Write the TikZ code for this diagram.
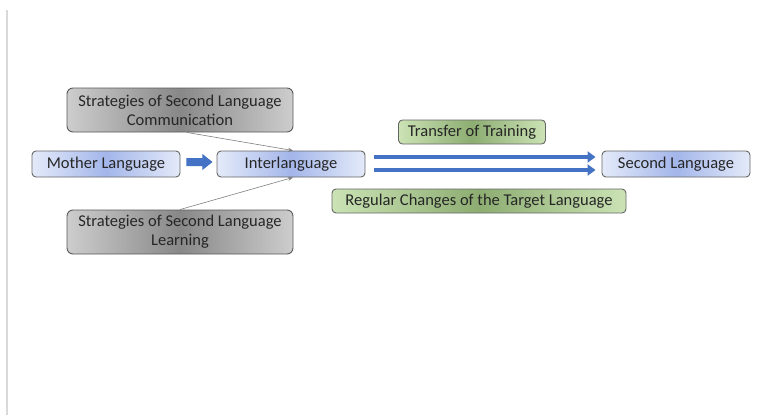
\documentclass[tikz,border=0pt]{standalone}
\usepackage{fontspec}
\setmainfont{Carlito}
\usetikzlibrary{arrows.meta}
\definecolor{bedge}{HTML}{E4EAF9}
\definecolor{bmid}{HTML}{A3B6EA}
\definecolor{gedge}{HTML}{CDCDCD}
\definecolor{gmid}{HTML}{888888}
\definecolor{nedge}{HTML}{CBE3B5}
\definecolor{nmid}{HTML}{8DAD72}
\definecolor{arrblue}{HTML}{4472C4}
\definecolor{txt}{HTML}{262626}
\tikzset{
  box/.style={rounded corners=4pt, minimum height=26pt, align=center, font=\fontsize{16.5}{19}\selectfont, text=txt, inner sep=0pt, line width=0.9pt},
  bluebox/.style={box, draw=black!60, left color=bedge, right color=bedge, middle color=bmid, minimum width=148pt},
  graybox/.style={box, draw=black!65, left color=gedge, right color=gedge, middle color=gmid, minimum width=226pt, minimum height=44pt, rounded corners=6pt},
  greenbox/.style={box, draw=black!60, left color=nedge, right color=nedge, middle color=nmid, minimum height=24pt},
  thin/.style={draw=black!50, line width=0.6pt, -{Stealth[length=5pt,width=4pt]}},
  thick/.style={draw=arrblue, line width=4.5pt, -{Triangle[length=8pt,width=11pt]}, shorten >=0pt},
}
\begin{document}
\begin{tikzpicture}[x=1pt,y=-1pt]
\useasboundingbox (0,0) rectangle (781,415);
\fill[white] (0,0) rectangle (781,415);
\draw[black!15, line width=2pt] (7,10) -- (7,415);
\node[bluebox] (mother) at (106,164) {Mother Language};
\node[bluebox] (inter) at (291,164) {Interlanguage};
\node[bluebox] (second) at (676,164) {Second Language};
\node[graybox] (comm) at (180,110) {Strategies of Second Language\\Communication};
\node[graybox] (learn) at (180,232) {Strategies of Second Language\\Learning};
\node[greenbox, minimum width=147pt] (transfer) at (472,132) {Transfer of Training};
\node[greenbox, minimum width=294pt] (regular) at (479,201) {Regular Changes of the Target Language};
\coordinate (bstart) at ([xshift=6pt,yshift=2pt]mother.east);
\fill[arrblue] (bstart) ++(0,-4) -- ++(16,0) -- ++(0,-4) -- ++(10,8) -- ++(-10,8) -- ++(0,-4) -- ++(-16,0) -- cycle;
\coordinate (itop) at ([xshift=2pt]inter.north);
\coordinate (ibot) at ([xshift=2pt]inter.south);
\draw[thin] ([xshift=7pt]comm.south) -- (itop);
\draw[thin] (learn.north) -- (ibot);
\coordinate (a1s) at ([yshift=-6pt]inter.east);
\coordinate (a2s) at ([yshift=7pt]inter.east);
\draw[thick] ([xshift=9pt]a1s) -- ([xshift=-6pt]second.west |- a1s);
\draw[thick] ([xshift=9pt]a2s) -- ([xshift=-6pt]second.west |- a2s);
\end{tikzpicture}
\end{document}
